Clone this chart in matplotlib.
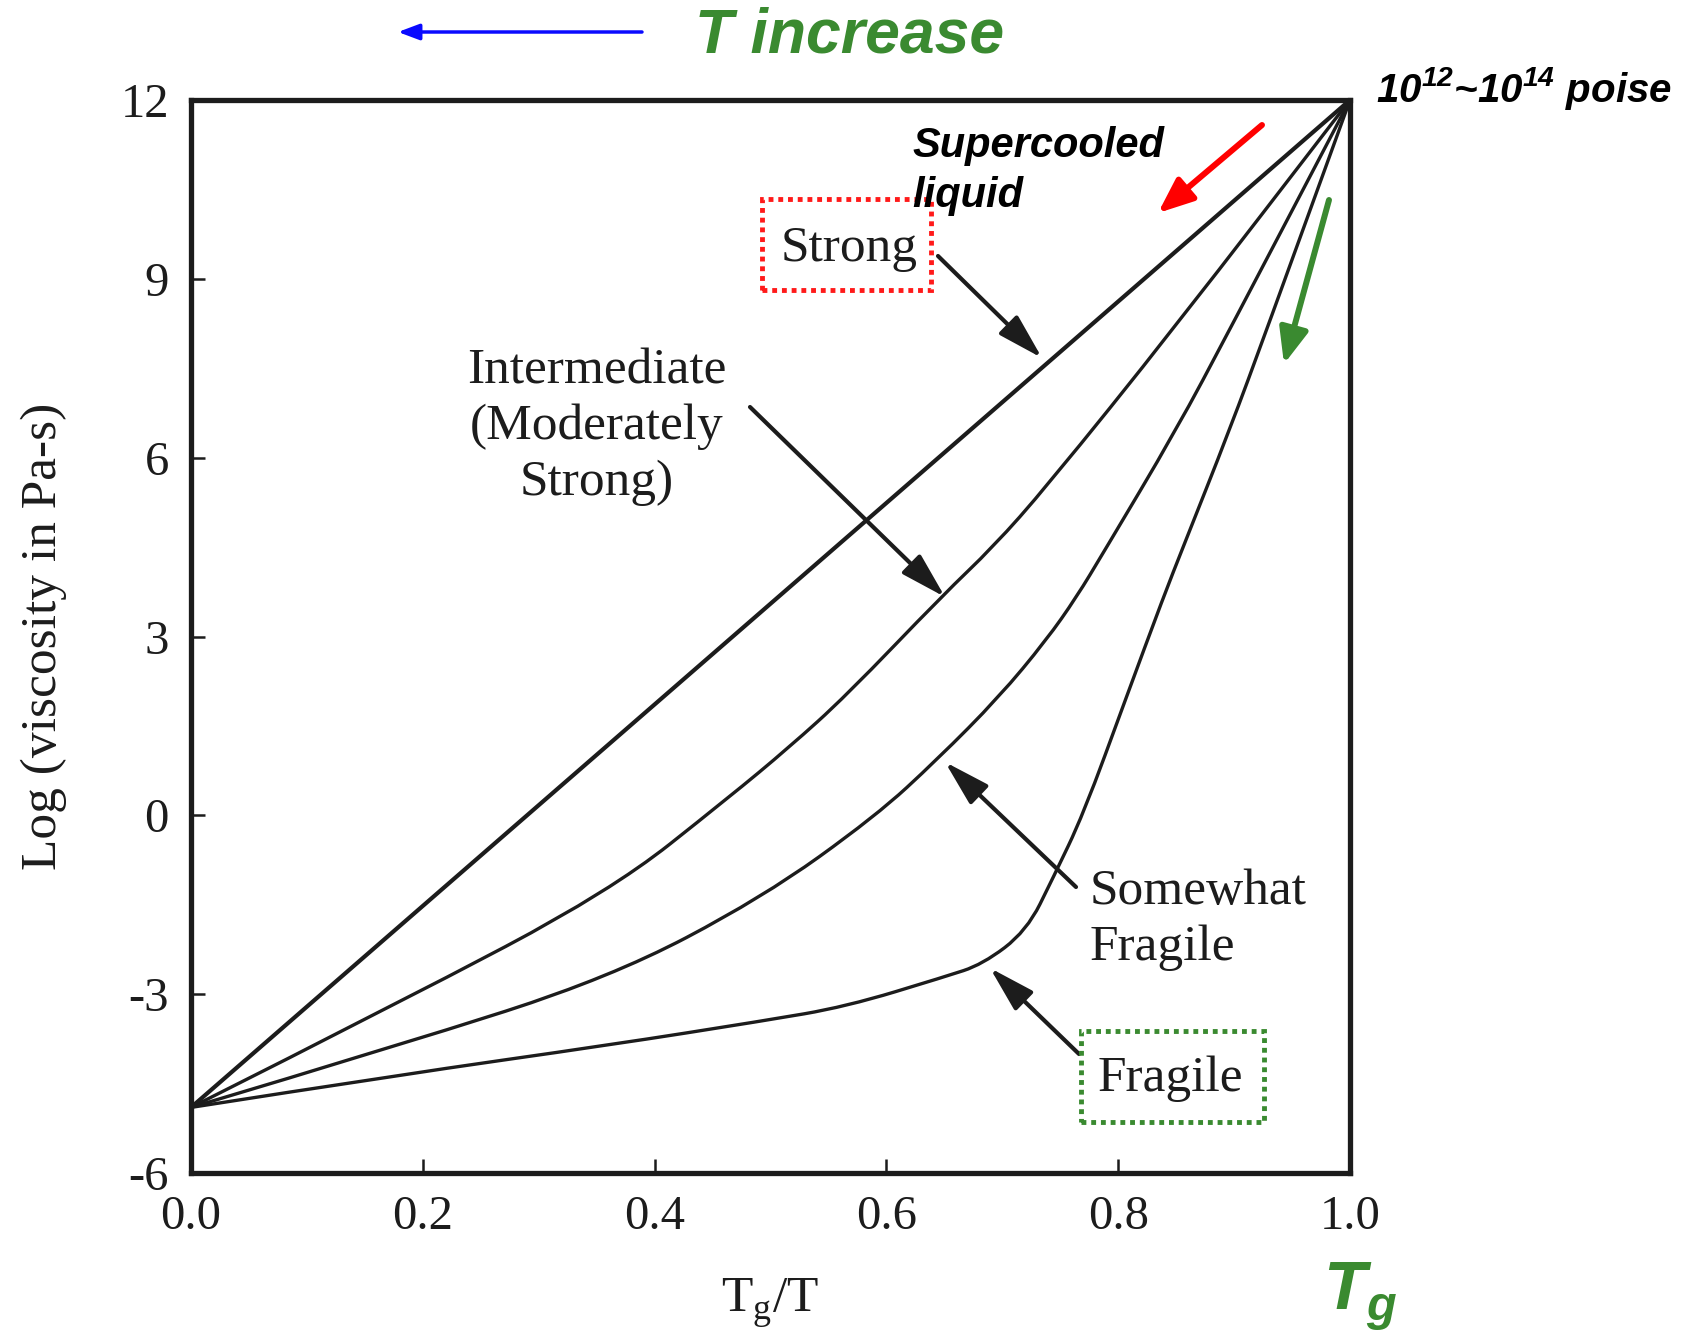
import matplotlib
matplotlib.use("Agg")
import matplotlib.pyplot as plt
from matplotlib.patches import Rectangle, PathPatch
from matplotlib.path import Path
from matplotlib.ticker import FormatStrFormatter

plt.rcParams["axes.unicode_minus"] = False
plt.rcParams["mathtext.fontset"] = "custom"
plt.rcParams["mathtext.rm"] = "Liberation Serif"
plt.rcParams["mathtext.bf"] = "Liberation Sans:bold:italic"

# values (Tg/T, log viscosity)
strong_x = [0.0, 1.0]
strong_y = [-4.9, 12.0]

inter_x = [0.0, 0.181, 0.362, 0.464, 0.516, 0.565, 0.649, 0.692, 0.738, 0.847, 1.0]
inter_y = [-4.9, -3.13, -1.27, 0.30, 1.14, 2.0, 3.70, 4.50, 5.51, 8.14, 12.0]

somewhat_x = [0.0, 0.181, 0.362, 0.493, 0.591, 0.644, 0.697, 0.738, 0.764, 0.787, 0.850, 0.896, 1.0]
somewhat_y = [-4.9, -3.85, -2.72, -1.38, -0.01, 0.94, 1.98, 2.94, 3.66, 4.40, 6.46, 8.14, 12.0]

fragile_x = [0.0, 0.181, 0.362, 0.493, 0.565, 0.650, 0.683, 0.721, 0.744, 0.770, 0.807, 0.839, 0.856, 0.896, 0.928, 1.0]
fragile_y = [-4.9, -4.35, -3.85, -3.45, -3.21, -2.71, -2.50, -1.94, -1.04, 0.02, 1.98, 3.66, 4.50, 6.46, 8.14, 12.0]

x_ticks = [0.0, 0.2, 0.4, 0.6, 0.8, 1.0]
y_ticks = [-6, -3, 0, 3, 6, 9, 12]

W, H = 1687, 1340
GREEN = "#3a8a30"
INK = "#1c1c1c"
SERIF = "Liberation Serif"
SANS = "Liberation Sans"


def fp(px, py):
    # pixel position (from top-left) to figure fraction
    return (px / W, 1 - py / H)


def smooth_curve(ax, xs, ys, **kw):
    # quadratic bezier through midpoints, read points used as control points
    verts = [(xs[0], ys[0])]
    codes = [Path.MOVETO]
    for i in range(1, len(xs) - 1):
        verts.append((xs[i], ys[i]))
        verts.append(((xs[i] + xs[i + 1]) / 2, (ys[i] + ys[i + 1]) / 2))
        codes += [Path.CURVE3, Path.CURVE3]
    verts.append((xs[-1], ys[-1]))
    codes.append(Path.LINETO)
    ax.add_patch(PathPatch(Path(verts, codes), fill=False, transform=ax.transData, **kw))


fig = plt.figure(figsize=(W / 100, H / 100), dpi=100)
ax = fig.add_axes([191 / W, 1 - 1173 / H, (1350 - 191) / W, (1173 - 100) / H])

ax.plot(strong_x, strong_y, color=INK, lw=3.0, solid_capstyle="round")
for cx, cy in [(inter_x, inter_y), (somewhat_x, somewhat_y), (fragile_x, fragile_y)]:
    smooth_curve(ax, cx, cy, edgecolor=INK, lw=2.4, joinstyle="round")

ax.set_xlim(0, 1)
ax.set_ylim(-6, 12)
ax.set_xticks(x_ticks)
ax.set_yticks(y_ticks)
ax.xaxis.set_major_formatter(FormatStrFormatter("%.1f"))
ax.tick_params(direction="in", length=10, width=1.8, pad=16, labelsize=35, color=INK)
for lab in ax.get_xticklabels() + ax.get_yticklabels():
    lab.set_family(SERIF)
    lab.set_color(INK)
for sp in ax.spines.values():
    sp.set_linewidth(3.8)
    sp.set_color(INK)

ax.set_xlabel(r"T$_{\rm g}$/T", fontsize=37, family=SERIF, color=INK, labelpad=27)
ax.set_ylabel("Log (viscosity in Pa-s)", fontsize=37, family=SERIF, color=INK, labelpad=38)

# category labels with pointer arrows
arrow_k = dict(arrowstyle="-|>,head_length=0.7,head_width=0.2", color=INK, lw=3, mutation_scale=40,
               shrinkA=0, shrinkB=0)
fig.text(*fp(849, 249), "Strong", fontsize=37, family=SERIF, color=INK, ha="center", va="center")
ax.annotate("", xy=fp(1042, 358), xytext=fp(938, 256), xycoords="figure fraction",
            textcoords="figure fraction", arrowprops=arrow_k)

fig.text(*fp(597, 427), "Intermediate\n(Moderately\nStrong)", fontsize=37, family=SERIF, color=INK,
         ha="center", va="center", linespacing=1.27)
ax.annotate("", xy=fp(945, 597), xytext=fp(750, 407), xycoords="figure fraction",
            textcoords="figure fraction", arrowprops=arrow_k)

fig.text(*fp(1090, 920), "Somewhat\nFragile", fontsize=37, family=SERIF, color=INK,
         ha="left", va="center", linespacing=1.26)
ax.annotate("", xy=fp(945, 762), xytext=fp(1076, 887), xycoords="figure fraction",
            textcoords="figure fraction", arrowprops=arrow_k)

fig.text(*fp(1170, 1079), "Fragile", fontsize=37, family=SERIF, color=INK, ha="center", va="center")
ax.annotate("", xy=fp(990, 968), xytext=fp(1079, 1054), xycoords="figure fraction",
            textcoords="figure fraction", arrowprops=arrow_k)

# dotted highlight boxes
x0, y0 = fp(762, 290)
fig.add_artist(Rectangle((x0, y0), (931 - 762) / W, (290 - 199) / H, transform=fig.transFigure,
                         fill=False, edgecolor="#ff1a1a", lw=3.5, linestyle=(0, (1, 1))))
x0, y0 = fp(1081, 1122)
fig.add_artist(Rectangle((x0, y0), (1264 - 1081) / W, (1122 - 1031) / H, transform=fig.transFigure,
                         fill=False, edgecolor=GREEN, lw=3.5, linestyle=(0, (1, 1))))

# sans bold-italic overlay annotations
fig.text(*fp(850, 36), "T increase", fontsize=45, family=SANS, weight="bold", style="italic",
         color=GREEN, ha="center", va="center")
ax.annotate("", xy=fp(398, 32), xytext=fp(642, 32), xycoords="figure fraction",
            textcoords="figure fraction",
            arrowprops=dict(arrowstyle="-|>,head_length=0.8,head_width=0.3", color="#0a0aff", lw=2.5,
                            mutation_scale=16, shrinkA=0, shrinkB=0))

fig.text(*fp(1376, 88), r"10$^{\mathbf{12}}$~10$^{\mathbf{14}}$ poise", fontsize=29, family=SANS,
         weight="bold", style="italic", color="black", ha="left", va="center")

fig.text(*fp(912, 171), "Supercooled\nliquid", fontsize=30, family=SANS, weight="bold", style="italic",
         color="black", ha="left", va="center", linespacing=1.3)

colored_k = dict(arrowstyle="-|>,head_length=0.85,head_width=0.35", lw=4.3, mutation_scale=25,
                 shrinkA=0, shrinkB=0)
ax.annotate("", xy=fp(1158, 213), xytext=fp(1262, 125), xycoords="figure fraction",
            textcoords="figure fraction", arrowprops=dict(colored_k, color="#ff0000"))
ax.annotate("", xy=fp(1284, 364), xytext=fp(1329, 200), xycoords="figure fraction",
            textcoords="figure fraction", arrowprops=dict(colored_k, color=GREEN))

fig.text(*fp(1360, 1297), r"T$_{\mathbf{g}}$", fontsize=50, family=SANS, weight="bold", style="italic",
         color=GREEN, ha="center", va="center")

fig.savefig("out.png", dpi=100, facecolor="white")
